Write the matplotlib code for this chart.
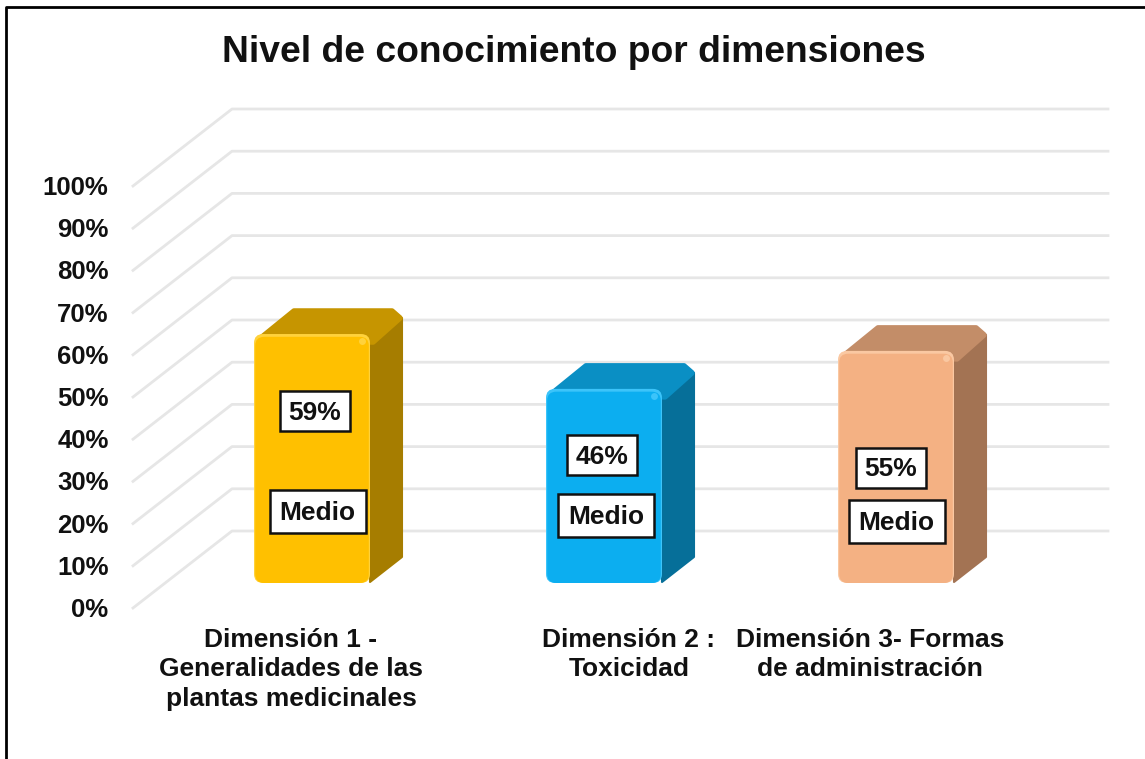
import matplotlib
matplotlib.use("Agg")
import numpy as np
import matplotlib.pyplot as plt
from matplotlib.patches import FancyBboxPatch, Polygon, Rectangle

plt.rcParams['font.family'] = ['Liberation Sans', 'DejaVu Sans']

title = "Nivel de conocimiento por dimensiones"
categories = ["Dimensión 1 -\nGeneralidades de las\nplantas medicinales",
              "Dimensión 2 :\nToxicidad",
              "Dimensión 3- Formas\nde administración"]
values = [59, 46, 55]
value_labels = ["59%", "46%", "55%"]
level_labels = ["Medio", "Medio", "Medio"]
ticks = list(range(0, 101, 10))
front_colors = ["#FFC000", "#0CAEF0", "#F4B183"]
top_colors = ["#C69500", "#0A8FC4", "#C38D68"]
side_colors = ["#A67D00", "#066F99", "#A37353"]
light_colors = ["#FFD23C", "#3CC4FA", "#FAC8A2"]

W, H = 1145, 759
PX = 4.22  # pixels per percent
Y0 = 608   # pixel row of 0% on the front of the floor

fig = plt.figure(figsize=(W / 100, H / 100), dpi=100)
ax = fig.add_axes([0, 0, 1, 1])
ax.set_xlim(0, W)
ax.set_ylim((Y0 - H) / PX, Y0 / PX)
ax.axis("off")


def drop(px):
    # pixel distance to percent units
    return px / PX


def row(px):
    # pixel row of the picture to y units
    return (Y0 - px) / PX


# wall and side grid
for t in ticks:
    ax.plot([133, 232, 1108], [t, t + drop(77), t + drop(77)], color="#E6E6E6", lw=2, zorder=1)
    ax.text(108.5, t - drop(2), f"{t}%", ha="right", va="center", fontsize=18.5, fontweight="bold", color="#111111")

# bars
bar_x = [254, 546, 838]
bar_w = 116
dx, dy = 33, 26
base = drop(25)
for i, v in enumerate(values):
    x = bar_x[i]
    top = base + v
    ax.add_patch(Polygon([(x + bar_w, base + drop(1)), (x + bar_w + dx - 1, base + drop(dy)),
                          (x + bar_w + dx - 1, top + drop(dy - 10)), (x + bar_w, top - drop(6))],
                         closed=True, fc=side_colors[i], ec=side_colors[i], lw=1.5, joinstyle="round", zorder=2))
    ax.add_patch(Polygon([(x + 8, top - drop(3)), (x + 40, top + drop(dy - 3)), (x + bar_w + dx - 11, top + drop(dy - 3)),
                          (x + bar_w + dx - 3, top + drop(dy - 10)), (x + bar_w + 3, top - drop(8))],
                         closed=True, fc=top_colors[i], ec=top_colors[i], lw=4, joinstyle="round", zorder=3))
    for pad, col in [(0, light_colors[i]), (4, front_colors[i])]:
        ax.add_patch(FancyBboxPatch((x + pad * 0.3, base), bar_w - pad * 0.6, v - drop(pad * 0.7),
                                    boxstyle="round,pad=0,rounding_size=9", mutation_aspect=1 / PX,
                                    fc=col, ec="none", zorder=4 + pad * 0.1))
    ax.plot([x + bar_w - 8], [top - drop(7)], "o", ms=5, color=light_colors[i], mec="none", zorder=5)

# labels
value_box_x = [315, 602, 891]
value_box_y = [411, 454.5, 467.5]
level_box_x = [317.5, 606, 896.5]
level_box_y = [511.5, 515.5, 521]
for i in range(3):
    for cx, cy, w, h, s in [(value_box_x[i], value_box_y[i], 70, 40, value_labels[i]),
                            (level_box_x[i], level_box_y[i], 96, 43, level_labels[i])]:
        ax.add_patch(Rectangle((cx - w / 2, row(cy + h / 2)), w, drop(h), fc="white", ec="#111111", lw=1.8, zorder=6))
        ax.text(cx, row(cy + 2), s, ha="center", va="center", fontsize=19, fontweight="bold",
                color="#111111", zorder=7)

cat_x = [291, 629, 870]
for cx, c in zip(cat_x, categories):
    ax.text(cx, row(628), c, ha="center", va="top", fontsize=19, fontweight="bold",
            color="#111111", linespacing=1.28)

ax.text(574, row(52), title, ha="center", va="center", fontsize=26.8, fontweight="bold", color="#111111")

# picture frame
ax.plot([6, 6, W], [row(H), row(7), row(7)], color="black", lw=2, zorder=8)

fig.savefig("out.png", dpi=100)
